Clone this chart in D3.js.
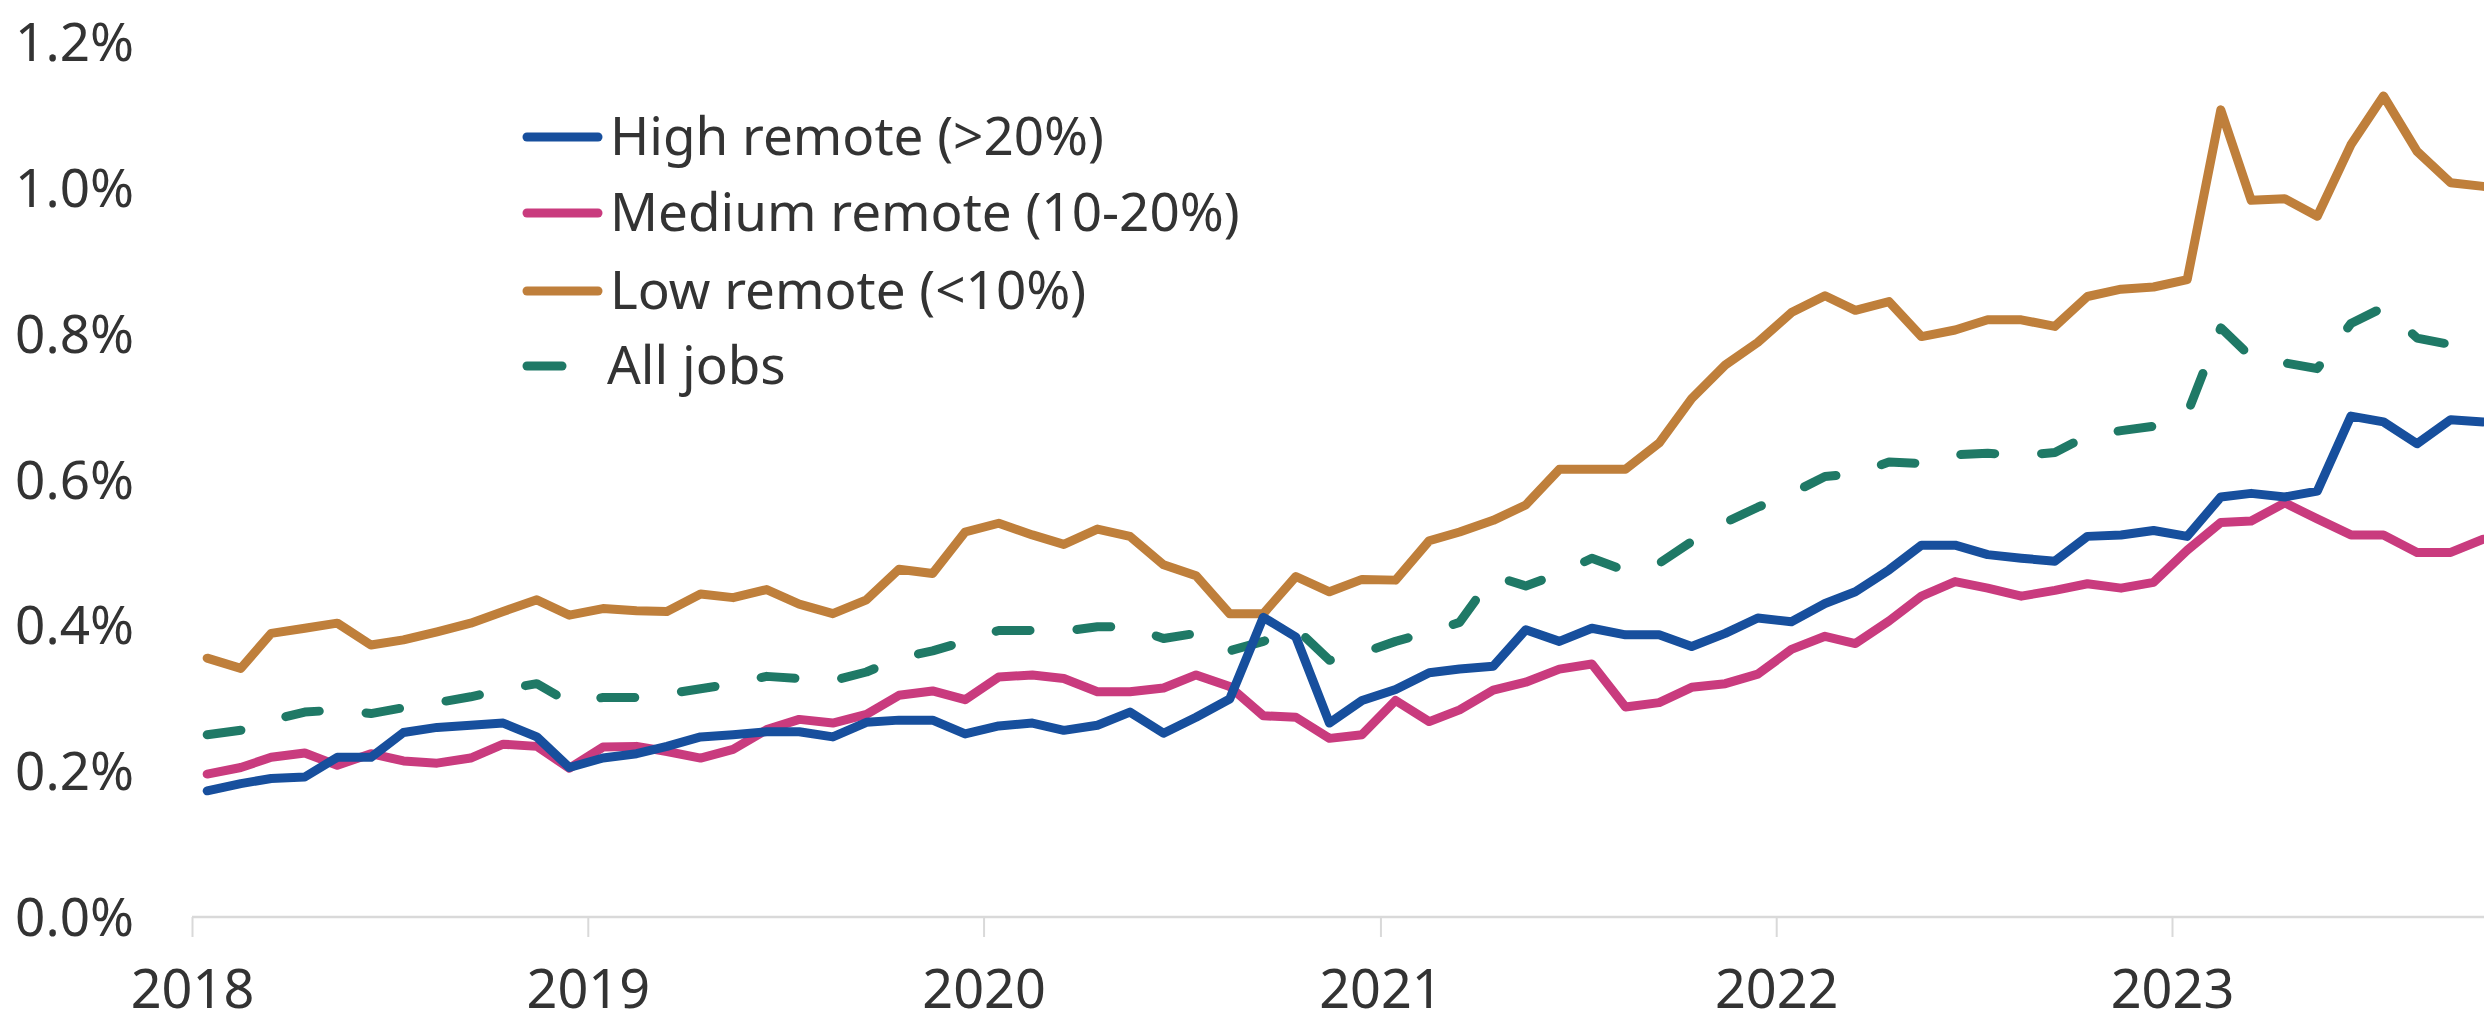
<!DOCTYPE html>
<html>
<head>
<meta charset="utf-8">
<script src="https://cdn.jsdelivr.net/npm/d3@7"></script>
<style>
  html, body { margin: 0; padding: 0; background: #ffffff; }
  #wrapper { width: 2484px; height: 1014px; overflow: hidden; }
  text { font-family: "Noto Sans", "Open Sans", sans-serif; fill: #333333; }
</style>
</head>
<body>
<div id="wrapper"></div>
<script>
// monthly series, Jan 2018 .. Oct 2023 (share of postings, %)
const firstMonth = new Date(2018, 0, 15);

const highRemote = [
    0.173, 0.183, 0.190, 0.192, 0.219, 0.219, 0.253, 0.260, 0.263, 0.266, 0.247, 0.205,
    0.218, 0.224, 0.234, 0.247, 0.250, 0.254, 0.254, 0.247, 0.267, 0.270, 0.270, 0.251,
    0.262, 0.266, 0.256, 0.263, 0.281, 0.252, 0.274, 0.299, 0.411, 0.384, 0.266, 0.297,
    0.312, 0.335, 0.340, 0.344, 0.394, 0.378, 0.396, 0.387, 0.387, 0.371, 0.389, 0.410,
    0.405, 0.430, 0.446, 0.476, 0.510, 0.510, 0.497, 0.492, 0.488, 0.522, 0.524, 0.530,
    0.522, 0.576, 0.581, 0.576, 0.584, 0.687, 0.679, 0.649, 0.682, 0.679
];
const mediumRemote = [
    0.196, 0.205, 0.219, 0.225, 0.208, 0.224, 0.214, 0.211, 0.218, 0.237, 0.234, 0.204,
    0.233, 0.234, 0.227, 0.218, 0.230, 0.257, 0.271, 0.266, 0.278, 0.304, 0.310, 0.298,
    0.329, 0.332, 0.327, 0.309, 0.309, 0.314, 0.332, 0.316, 0.276, 0.274, 0.245, 0.250,
    0.297, 0.268, 0.284, 0.311, 0.322, 0.340, 0.347, 0.288, 0.294, 0.315, 0.320, 0.333,
    0.367, 0.385, 0.375, 0.406, 0.440, 0.460, 0.451, 0.440, 0.448, 0.457, 0.451, 0.459,
    0.503, 0.541, 0.543, 0.568, 0.546, 0.524, 0.524, 0.500, 0.500, 0.518
];
const lowRemote = [
    0.355, 0.341, 0.389, 0.396, 0.403, 0.373, 0.380, 0.391, 0.403, 0.419, 0.435, 0.414,
    0.423, 0.420, 0.419, 0.443, 0.438, 0.449, 0.429, 0.416, 0.435, 0.477, 0.471, 0.528,
    0.540, 0.524, 0.511, 0.532, 0.522, 0.483, 0.468, 0.416, 0.416, 0.467, 0.446, 0.463,
    0.462, 0.516, 0.528, 0.544, 0.565, 0.614, 0.614, 0.614, 0.650, 0.711, 0.757, 0.788,
    0.829, 0.852, 0.832, 0.844, 0.796, 0.805, 0.819, 0.819, 0.810, 0.851, 0.861, 0.864,
    0.874, 1.107, 0.983, 0.985, 0.961, 1.059, 1.126, 1.050, 1.007, 1.002
];
const allJobs = [
    0.250, 0.256, 0.270, 0.281, 0.284, 0.279, 0.287, 0.294, 0.302, 0.312, 0.320, 0.294,
    0.301, 0.301, 0.306, 0.313, 0.320, 0.330, 0.327, 0.324, 0.336, 0.355, 0.365, 0.378,
    0.393, 0.393, 0.392, 0.398, 0.398, 0.382, 0.389, 0.365, 0.378, 0.396, 0.352, 0.362,
    0.378, 0.391, 0.404, 0.468, 0.454, 0.471, 0.492, 0.475, 0.485, 0.515, 0.541, 0.562,
    0.581, 0.604, 0.608, 0.624, 0.622, 0.634, 0.636, 0.633, 0.637, 0.660, 0.667, 0.673,
    0.690, 0.808, 0.768, 0.760, 0.752, 0.814, 0.836, 0.794, 0.785, 0.779
];

const seriesNames = ["High remote (>20%)", "Medium remote (10-20%)", "Low remote (<10%)", "All jobs"];
const seriesColors = ["#174f9d", "#c93b7e", "#bf7f3b", "#1f7966"];
const yearLabels = ["2018", "2019", "2020", "2021", "2022", "2023"];
const yTicks = [0, 0.2, 0.4, 0.6, 0.8, 1.0, 1.2];

function buildPlot() {
    const dimension = {
        width: 2484,
        height: 1014,
        margin: { top: 42, left: 192, bottom: 97, right: 0 }
    };

    const seriesValues = [highRemote, mediumRemote, lowRemote, allJobs];
    const months = highRemote.map((d, i) => d3.timeMonth.offset(firstMonth, i));

    const svg = d3.select("#wrapper").append("svg")
        .attr("width", dimension.width)
        .attr("height", dimension.height);

    const years = yearLabels.map(y => new Date(+y, 0, 1));

    const xScaler = d3.scaleTime()
        .domain([years[0], years[years.length - 1]])
        .range([192, 2172]);

    const yScaler = d3.scaleLinear()
        .domain([0, 1.2])
        .range([dimension.height - dimension.margin.bottom, dimension.margin.top]);

    // y labels (no axis line, no gridlines)
    svg.append("g")
        .selectAll("text")
        .data(yTicks)
        .join("text")
        .attr("x", 134)
        .attr("y", d => yScaler(d) + 19)
        .attr("text-anchor", "end")
        .style("font-size", "53px")
        .text(d => d3.format(".1f")(d) + "%");

    // x axis
    const xAxis = d3.axisBottom(xScaler)
        .tickValues(years)
        .tickSize(20)
        .tickSizeOuter(0)
        .tickPadding(33)
        .tickFormat((d, i) => yearLabels[i]);

    const xg = svg.append("g")
        .attr("transform", `translate(0,${yScaler(0)})`)
        .call(xAxis);
    xg.select(".domain").remove();
    xg.selectAll(".tick line").attr("stroke", "#d9d9d9").attr("stroke-width", 2);
    xg.selectAll(".tick text")
        .style("font-size", "54px")
        .style("font-family", "'Noto Sans', sans-serif")
        .attr("fill", "#333333");

    xg.append("line")
        .attr("x1", xScaler(years[0]))
        .attr("x2", dimension.width)
        .attr("y1", 0)
        .attr("y2", 0)
        .attr("stroke", "#d9d9d9")
        .attr("stroke-width", 2.5);

    // lines
    const lineGenerator = d3.line()
        .x((d, i) => xScaler(months[i]))
        .y(d => yScaler(d));

    const drawOrder = [3, 2, 1, 0];
    drawOrder.forEach(k => {
        const p = svg.append("path")
            .attr("d", lineGenerator(seriesValues[k]))
            .attr("fill", "none")
            .attr("stroke", seriesColors[k])
            .attr("stroke-width", 9)
            .attr("stroke-linejoin", "round")
            .attr("stroke-linecap", "round");
        if (k === 3) p.attr("stroke-dasharray", "34,47");
    });

    // legend
    const legend = svg.append("g").attr("transform", "translate(527,137)");
    const item = legend.selectAll("g")
        .data(seriesNames)
        .join("g")
        .attr("transform", (d, i) => `translate(0,${[0, 76, 154, 229][i]})`);

    item.append("line")
        .attr("x1", 0)
        .attr("x2", (d, i) => i === 3 ? 35 : 71)
        .attr("stroke", (d, i) => seriesColors[i])
        .attr("stroke-width", 9)
        .attr("stroke-linecap", "round");

    item.append("text")
        .attr("x", (d, i) => i === 3 ? 80 : 83)
        .attr("y", 18)
        .style("font-size", "53px")
        .text(d => d);
}

buildPlot();
</script>
</body>
</html>
